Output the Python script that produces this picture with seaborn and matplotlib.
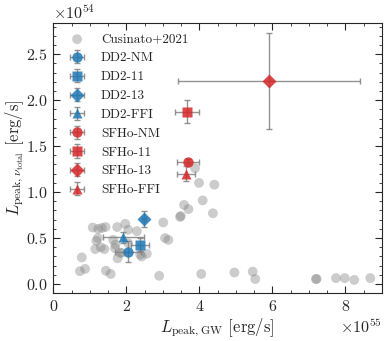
import numpy as np
import pandas as pd
import seaborn as sns
import matplotlib.pyplot as plt
from matplotlib.ticker import MultipleLocator

# Cusinato+2021 sample (x in 1e55 erg/s, y in 1e54 erg/s)
cus_x = [0.78, 0.73, 0.87, 1.08, 1.23, 1.43, 1.75, 1.97, 2.29, 1.18, 1.22,
         1.15, 1.30, 1.40, 1.64, 1.83, 1.76, 1.70, 2.05, 1.33, 1.69, 1.87,
         2.56, 2.38, 2.42, 1.44, 1.57, 2.90, 3.01, 3.06, 3.15, 3.47, 3.49,
         3.58, 3.70, 4.09, 4.37, 3.88, 3.99, 4.41, 4.05, 4.96, 5.46, 5.53,
         7.19, 7.21, 7.74, 7.98, 8.24, 8.68, 2.05]
cus_y = [0.29, 0.14, 0.165, 0.615, 0.60, 0.62, 0.62, 0.655, 0.575, 0.47, 0.50,
         0.38, 0.40, 0.38, 0.48, 0.34, 0.28, 0.43, 0.59, 0.61, 0.39, 0.34,
         0.33, 0.32, 0.30, 0.145, 0.11, 0.09, 0.67, 0.50, 0.48, 0.73, 0.74,
         0.86, 0.815, 0.91, 0.77, 1.26, 1.10, 1.08, 0.11, 0.126, 0.135, 0.055,
         0.054, 0.056, 0.065, 0.065, 0.045, 0.065, 0.445]

# simulated models
models = ['DD2-NM', 'DD2-11', 'DD2-13', 'DD2-FFI',
          'SFHo-NM', 'SFHo-11', 'SFHo-13', 'SFHo-FFI']
mod_x = [2.05, 2.38, 2.49, 1.92, 3.68, 3.65, 5.91, 3.63]
mod_xerr = [0.36, 0.24, 0.05, 0.55, 0.30, 0.33, 2.50, 0.25]
mod_y = [0.354, 0.43, 0.705, 0.51, 1.33, 1.876, 2.21, 1.20]
mod_yerr = [0.11, 0.07, 0.09, 0.06, 0.03, 0.13, 0.52, 0.08]
mod_marker = ['o', 's', 'D', '^', 'o', 's', 'D', '^']
mod_color = ['tab:blue'] * 4 + ['tab:red'] * 4

sns.set_style('ticks')
plt.rcParams['font.family'] = 'cmr10'
plt.rcParams['mathtext.fontset'] = 'cm'
plt.rcParams['axes.formatter.use_mathtext'] = True
plt.rcParams['axes.unicode_minus'] = False

fig = plt.figure(figsize=(3.89, 3.41), dpi=100)
ax = fig.add_axes([0.137, 0.140, 0.845, 0.793])

df = pd.DataFrame({'x': np.array(cus_x) * 1e55, 'y': np.array(cus_y) * 1e54})
sns.scatterplot(data=df, x='x', y='y', ax=ax, color='grey', alpha=0.4,
                s=50, edgecolor='none', label='Cusinato+2021', zorder=1)

msize = {'o': 7.5, 's': 7, 'D': 7, '^': 7.5}
for i, name in enumerate(models):
    ax.errorbar(mod_x[i] * 1e55, mod_y[i] * 1e54,
                xerr=mod_xerr[i] * 1e55, yerr=mod_yerr[i] * 1e54,
                fmt=mod_marker[i], color=mod_color[i], alpha=0.85,
                ms=msize[mod_marker[i]], mec='none', ecolor='#808080',
                elinewidth=1, capsize=2.5, label=name, zorder=3)

ax.set_xlim(0, 9.0e55)
ax.set_ylim(-0.1e54, 2.84e54)
ax.xaxis.set_major_locator(MultipleLocator(2e55))
ax.xaxis.set_minor_locator(MultipleLocator(0.5e55))
ax.yaxis.set_major_locator(MultipleLocator(0.5e54))
ax.yaxis.set_minor_locator(MultipleLocator(0.1e54))
ax.tick_params(which='both', direction='in', top=True, right=True,
               labelsize=11.5)
ax.tick_params(which='major', length=5, pad=4)
ax.tick_params(which='minor', length=2.5)
ax.xaxis.get_offset_text().set_fontsize(11.5)
ax.yaxis.get_offset_text().set_fontsize(11.5)

ax.set_xlabel(r'$L_{\rm peak,GW}$ [erg/s]', fontsize=12, labelpad=2)
ax.set_ylabel(r'$L_{{\rm peak},\nu_{\rm total}}$ [erg/s]', fontsize=12,
              labelpad=0)

ax.legend(loc='upper left', frameon=False, fontsize=9.5,
          labelspacing=0.5, handletextpad=0.8, borderaxespad=0.4)

fig.savefig('out.png', dpi=100)
